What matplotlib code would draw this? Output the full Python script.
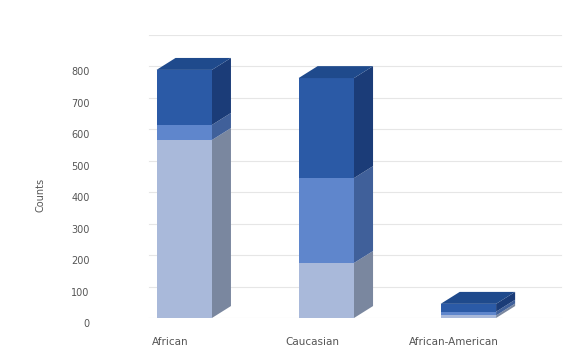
import matplotlib
matplotlib.use("Agg")
import matplotlib.pyplot as plt
from matplotlib.patches import Polygon
from matplotlib.transforms import ScaledTranslation
import numpy as np

categories = ["African", "Caucasian", "African-American"]
seg_light = [566, 175, 8]
seg_mid = [48, 270, 12]
seg_dark = [175, 318, 25]
yticks = [0, 100, 200, 300, 400, 500, 600, 700, 800]
ylabel = "Counts"

front_colors = ["#a9b9da", "#5f86cc", "#2b5aa6"]
side_colors = ["#7a879f", "#40609a", "#1b3c78"]
top_color = "#1f4a8c"

fig = plt.figure(figsize=(5.85, 3.58), dpi=100)
ax = fig.add_axes([145/585, (358-318)/358, 420/585, 283/358])
ax.set_xlim(-0.176, 2.78)
ax.set_ylim(0, 900)

# grid
for g in range(0, 1000, 100):
    ax.axhline(g, xmin=0.01, xmax=0.99, color="#e6e6e6", lw=0.8, zorder=0)

x = np.arange(len(categories))
xc = x + 0.1
w = 0.39
dx = 0.134
dy = 38

segs = [seg_light, seg_mid, seg_dark]
bottoms = np.zeros(len(categories))
for si, seg in enumerate(segs):
    vals = np.array(seg, dtype=float)
    bars = ax.bar(xc, vals, width=w, bottom=bottoms, color=front_colors[si],
                  edgecolor="none", zorder=3)
    for bi, b in enumerate(bars):
        x0 = b.get_x()
        x1 = x0 + b.get_width()
        yb = bottoms[bi]
        yt = yb + vals[bi]
        side = Polygon([(x1, yb), (x1 + dx, yb + dy), (x1 + dx, yt + dy), (x1, yt)],
                       closed=True, facecolor=side_colors[si], edgecolor="none", zorder=2)
        ax.add_patch(side)
    bottoms = bottoms + vals

# top caps
for bi in range(len(categories)):
    x0 = xc[bi] - w / 2
    x1 = xc[bi] + w / 2
    T = bottoms[bi]
    cap = Polygon([(x0, T), (x1, T), (x1 + dx, T + dy), (x0 + dx, T + dy)],
                  closed=True, facecolor=top_color, edgecolor="none", zorder=4)
    ax.add_patch(cap)

for s in ax.spines.values():
    s.set_visible(False)

ax.set_yticks(yticks)
ax.set_yticklabels([str(t) for t in yticks], fontsize=7, color="#555555")
ax.tick_params(axis="y", length=0, pad=40)
for lab in ax.get_yticklabels():
    lab.set_transform(lab.get_transform() + ScaledTranslation(0, -0.05, fig.dpi_scale_trans))

ax.set_xticks(x)
ax.set_xticklabels(categories, fontsize=7.5, color="#555555")
ax.tick_params(axis="x", length=0, pad=14)

fig.text(40/585, 1 - 195/358, ylabel, rotation=90, fontsize=7, color="#555555",
         ha="center", va="center")

fig.savefig("out.png", dpi=100)
